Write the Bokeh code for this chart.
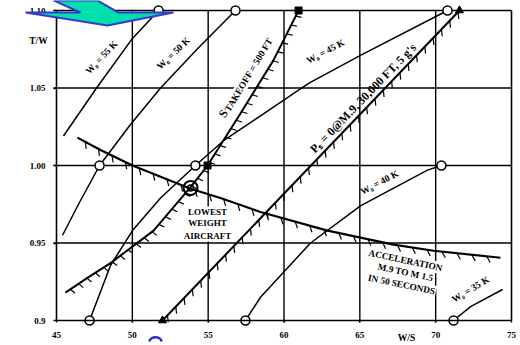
import numpy as np
from bokeh.plotting import figure
from bokeh.models import Range1d, FixedTicker, PolyAnnotation
from bokeh.core.properties import value
from bokeh.embed import file_html
from bokeh.resources import INLINE

# ---------------- data (W/S vs T/W) ----------------
x_ticks = [45, 50, 55, 60, 65, 70, 75]
y_ticks = [0.90, 0.95, 1.00, 1.05, 1.10]
y_tick_labels = ["0.9", "0.95", "1.00", "1.05", "1.10"]
grid_x = [50, 55, 60, 65, 70]
grid_y = [0.95, 1.00, 1.05]

w55_ws = [45.46, 47.64, 50.01, 51.73]
w55_tw = [1.019, 1.050, 1.082, 1.100]
w50_ws = [45.40, 46.45, 47.84, 49.88, 51.86, 54.36, 56.80]
w50_tw = [0.955, 0.975, 1.000, 1.0265, 1.050, 1.076, 1.100]
w45_ws = [47.18, 48.56, 50.01, 51.86, 54.16, 56.01, 58.45, 61.62, 65.04, 70.78]
w45_tw = [0.900, 0.9355, 0.958, 0.979, 1.000, 1.016, 1.032, 1.053, 1.071, 1.100]
w40_ws = [57.46, 58.45, 61.75, 65.04, 69.46, 70.38]
w40_tw = [0.900, 0.915, 0.950, 0.974, 0.997, 1.000]
w35_ws = [71.18, 72.30, 74.41]
w35_tw = [0.900, 0.909, 0.920]

takeoff_ws = [45.59, 47.11, 48.56, 51.40, 53.84, 54.96, 57.13, 59.31, 60.96]
takeoff_tw = [0.918, 0.928, 0.937, 0.958, 0.986, 1.000, 1.0335, 1.068, 1.100]
accel_ws = [46.38, 47.90, 50.01, 53.84, 55.81, 58.45, 62.87, 67.22, 69.86, 74.27]
accel_tw = [1.018, 1.010, 1.000, 0.985, 0.979, 0.970, 0.958, 0.949, 0.945, 0.9405]
ps_ws = [51.99, 71.57]
ps_tw = [0.900, 1.100]

open_pt_ws = [51.73, 56.80, 70.78, 47.84, 54.16, 70.38, 47.18, 57.46, 71.18]
open_pt_tw = [1.100, 1.100, 1.100, 1.000, 1.000, 1.000, 0.900, 0.900, 0.900]
square_pt_ws = [54.96, 60.96]
square_pt_tw = [1.000, 1.100]
tri_pt_ws = [51.99, 71.57]
tri_pt_tw = [0.900, 1.100]
lowest_ws = [53.84]
lowest_tw = [0.9855]

# ---------------- figure ----------------
# pixel scale of the plotting area (px per data unit); the frame covers the
# whole canvas so the slide decorations around the chart can be drawn too
SX = 455 / 30.0
SY = 310 / 0.2
X0_PX, Y_TOP_PX, W, H = 56, 10, 520, 345
x_lo = x_ticks[0] - X0_PX / SX
x_hi = x_lo + W / SX
y_hi = y_ticks[-1] + Y_TOP_PX / SY
y_lo = y_hi - H / SY

FONT = value("Liberation Serif")
p = figure(width=W, height=H, x_range=Range1d(x_lo, x_hi), y_range=Range1d(y_lo, y_hi),
           output_backend="svg", toolbar_location=None,
           min_border_left=0, min_border_right=0, min_border_top=0, min_border_bottom=0)
p.background_fill_color = "white"
p.border_fill_color = "white"
p.outline_line_color = None
p.xgrid.visible = False
p.ygrid.visible = False

p.xaxis.ticker = FixedTicker(ticks=x_ticks)
p.yaxis.ticker = FixedTicker(ticks=y_ticks)
p.yaxis.major_label_overrides = {t: s for t, s in zip(y_ticks, y_tick_labels)}
p.xaxis.fixed_location = y_ticks[0]
p.yaxis.fixed_location = x_ticks[0]
p.xaxis.bounds = (x_ticks[0], x_ticks[-1])
p.yaxis.bounds = (y_ticks[0], y_ticks[-1])
for ax in (p.xaxis[0], p.yaxis[0]):
    ax.axis_line_color = "black"
    ax.axis_line_width = 1.6
    ax.major_tick_line_color = "black"
    ax.major_tick_line_width = 1.3
    ax.major_tick_in = 0
    ax.minor_tick_line_color = None
    ax.major_label_text_font = "Liberation Serif"
    ax.major_label_text_font_style = "bold"
    ax.major_label_text_font_size = "9px"
    ax.major_label_text_color = "black"
p.yaxis.major_tick_out = 3
p.yaxis.major_label_standoff = 8
p.xaxis.major_tick_out = 2
p.xaxis.major_label_standoff = 9

# grid lines and the chart border (top and right)
g_left = x_ticks[0] - 3 / SX
p.segment([g_left] * len(grid_y), grid_y, [x_ticks[-1]] * len(grid_y), grid_y,
          line_color="black", line_width=1.4)
p.segment(grid_x, [y_ticks[0] - 2 / SY] * len(grid_x), grid_x, [y_ticks[-1]] * len(grid_x),
          line_color="black", line_width=1.4)
p.segment([g_left, x_ticks[-1]], [y_ticks[-1], y_ticks[0]],
          [x_ticks[-1], x_ticks[-1]], [y_ticks[-1], y_ticks[-1]],
          line_color="black", line_width=1.6)


def hatch(xs, ys, spacing, length, rot_deg):
    px = np.asarray(xs) * SX
    py = np.asarray(ys) * SY
    seg = np.hypot(np.diff(px), np.diff(py))
    cum = np.concatenate([[0.0], np.cumsum(seg)])
    a = np.radians(rot_deg)
    x0, y0, x1, y1 = [], [], [], []
    for s in np.arange(spacing * 0.6, cum[-1] - 2, spacing):
        i = int(np.clip(np.searchsorted(cum, s) - 1, 0, len(seg) - 1))
        t = (s - cum[i]) / seg[i]
        bx = px[i] + t * (px[i + 1] - px[i])
        by = py[i] + t * (py[i + 1] - py[i])
        tx = (px[i + 1] - px[i]) / seg[i]
        ty = (py[i + 1] - py[i]) / seg[i]
        nx, ny = ty, -tx
        dx = np.cos(a) * nx + np.sin(a) * tx
        dy = np.cos(a) * ny + np.sin(a) * ty
        x0.append(bx / SX); y0.append(by / SY)
        x1.append((bx + length * dx) / SX); y1.append((by + length * dy) / SY)
    return x0, y0, x1, y1


# labels drawn first so the curves stay on top of their white boxes
def txt(x, y, s, ang, size="9.5px", align="center", bg=None, baseline="middle"):
    kw = dict(text_font=FONT, text_font_style="bold", text_font_size=size,
              text_align=align, text_baseline=baseline, text_color="black",
              angle=ang, angle_units="deg")
    if bg:
        kw["background_fill_color"] = bg
        kw["padding"] = 1
    p.text([x], [y], [s], **kw)

txt(47.97, 1.0697, "W\u2080 = 55 K", 47)
txt(52.71, 1.0723, "W\u2080 = 50 K", 44)
txt(62.74, 1.0735, "W\u2080 = 45 K", 28)
txt(66.30, 0.9890, "W\u2080 = 40 K", 28)
txt(72.30, 0.9200, "W\u2080 = 35 K", 31)
txt(55.88, 1.0316, "S", 59, size="12px", align="left")
txt(56.22, 1.0347, "TAKEOFF = 500 FT", 59, size="9.5px", align="left", bg="white")
txt(65.55, 1.0403, "P\u209b = 0@M.9, 30,000 FT, 5 g's", 46, size="12px", baseline="bottom")
for yy, s in zip([0.9697, 0.9626, 0.9548], ["LOWEST", "WEIGHT", "AIRCRAFT"]):
    txt(54.96, yy, s, 0, size="9px", bg="white")
for xx, yy, s in zip([68.01, 68.01, 67.75], [0.9387, 0.9310, 0.9232],
                     ["ACCELERATION", "M.9 TO M 1.5", "IN 50 SECONDS"]):
    txt(xx, yy, s, -12, size="9.3px", bg="white")

# axis titles
txt(43.81, 1.0806, "T/W", 0)
txt(68.08, 0.8890, "W/S", 0)

# W0 curves
for xs, ys in [(w55_ws, w55_tw), (w50_ws, w50_tw), (w45_ws, w45_tw),
               (w40_ws, w40_tw), (w35_ws, w35_tw)]:
    p.line(xs, ys, line_color="black", line_width=1.5)

# constraint lines with hatching
p.line(takeoff_ws, takeoff_tw, line_color="black", line_width=2)
p.line(accel_ws, accel_tw, line_color="black", line_width=2.2)
p.line(ps_ws, ps_tw, line_color="black", line_width=2)
for xs, ys, sp, ln, rot in [(takeoff_ws, takeoff_tw, 10, 6, 15),
                            (accel_ws, accel_tw, 15, 7, 35),
                            (ps_ws, ps_tw, 12, 7, -40)]:
    hx0, hy0, hx1, hy1 = hatch(xs, ys, sp, ln, rot)
    p.segment(hx0, hy0, hx1, hy1, line_color="black", line_width=1.2)

# markers
p.scatter(open_pt_ws, open_pt_tw, marker="circle", size=9, fill_color="white",
          line_color="black", line_width=1.5)
p.scatter(square_pt_ws, square_pt_tw, marker="square", size=7, fill_color="black",
          line_color="black")
p.scatter(tri_pt_ws, tri_pt_tw, marker="triangle", size=8, fill_color="black",
          line_color="black")
p.scatter(lowest_ws, lowest_tw, marker="circle", size=14, fill_color=None,
          line_color="black", line_width=2)
p.scatter(lowest_ws, lowest_tw, marker="circle", size=6, fill_color=None,
          line_color="black", line_width=1.5)

# slide decorations: cyan arrow at top left, blue arc at bottom
p.add_layout(PolyAnnotation(xs=[42.96, 46.58, 44.80, 47.70, 49.09, 52.71, 48.36],
                            ys=[1.0987, 1.0987, 1.1065, 1.1065, 1.0987, 1.0987, 1.0903],
                            fill_color="#00E0AA", fill_alpha=1.0,
                            line_color="#3838D0", line_width=2, line_alpha=1.0))
p.arc(x=[51.53], y=[0.8846], radius=7, radius_units="screen",
      start_angle=25, end_angle=155, start_angle_units="deg", end_angle_units="deg",
      line_color="#3030D0", line_width=2.5)

open("out.html", "w").write(file_html(p, INLINE))
